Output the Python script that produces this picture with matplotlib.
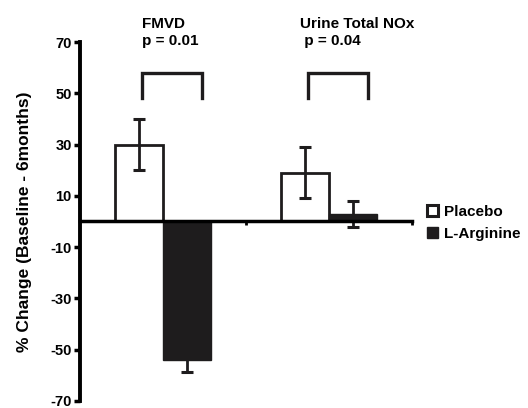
import matplotlib
matplotlib.use("Agg")
import matplotlib.pyplot as plt
import matplotlib.patches as mpatches
import numpy as np

plt.rcParams['font.family'] = ['Liberation Sans', 'DejaVu Sans']
plt.rcParams['font.weight'] = 'bold'

categories = ["FMVD", "Urine Total NOx"]
p_labels = ["p = 0.01", " p = 0.04"]
series_names = ["Placebo", "L-Arginine"]
placebo_vals = [30, 19]
placebo_err = [10, 10]
larg_vals = [-54, 2.8]
larg_err = [4.5, 5]
yticks = [-70, -50, -30, -10, 10, 30, 50, 70]

fig = plt.figure(figsize=(5.28, 4.08), dpi=100)
W, H = 528, 408
ax = fig.add_axes([80 / W, 1 - 401 / H, (412 - 80) / W, (401 - 42) / H])

centers = np.arange(len(categories)) + 0.5
bw = 0.284
off = 0.145
dark = '#1e1c1d'

ax.bar(centers - off, placebo_vals, bw, color='white', edgecolor='#1e1c1d', linewidth=2, zorder=2)
ax.bar(centers + off, larg_vals, bw, color=dark, edgecolor=dark, linewidth=1, zorder=2)
ax.errorbar(centers - off, placebo_vals, yerr=placebo_err, fmt='none', ecolor='#1e1c1d',
            elinewidth=2, capsize=4.5, capthick=2.2, zorder=3)
ax.errorbar(centers + off, larg_vals, yerr=larg_err, fmt='none', ecolor='#1e1c1d',
            elinewidth=2, capsize=4.5, capthick=2.2, zorder=3)

# significance brackets
br_lo, br_hi = 48, 58
for c in centers:
    x0 = c - 0.127
    x1 = c + 0.235
    ax.plot([x0, x0, x1, x1], [br_lo, br_hi, br_hi, br_lo], color='#1e1c1d', lw=2.4,
            solid_joinstyle='miter', clip_on=False, zorder=3)

# titles
title_x = [centers[0] - 0.127, centers[1] - 0.175]
for tx, name, pl in zip(title_x, categories, p_labels):
    ax.text(tx, 75.5, name, fontsize=11, fontweight='bold', ha='left', va='baseline', clip_on=False)
    ax.text(tx, 69.0, pl, fontsize=11, fontweight='bold', ha='left', va='baseline', clip_on=False)

ax.set_xlim(0, 2)
ax.set_ylim(-70, 70)
ax.set_yticks(yticks)
ax.set_yticklabels([str(t) for t in yticks], fontsize=10.5, fontweight='bold')
ax.tick_params(axis='y', direction='out', length=4, width=2.5, pad=2)
ax.set_xticks([1, 2])
ax.set_xticklabels([])
ax.tick_params(axis='x', direction='out', length=3, width=2)

for s in ['top', 'right']:
    ax.spines[s].set_visible(False)
ax.spines['left'].set_linewidth(2.8)
ax.spines['bottom'].set_position(('data', 0))
ax.spines['bottom'].set_linewidth(2.5)
ax.spines['bottom'].set_zorder(4)

ax.set_ylabel("% Change (Baseline - 6months)", fontsize=12.5, fontweight='bold', labelpad=13)

handles = [mpatches.Patch(facecolor='white', edgecolor='#1e1c1d', linewidth=2.2),
           mpatches.Patch(facecolor=dark, edgecolor=dark)]
leg = fig.legend(handles, series_names, loc='upper left', bbox_to_anchor=(427 / W, 1 - 205 / H),
                 frameon=False, prop={'size': 11, 'weight': 'bold'},
                 handlelength=0.72, handleheight=0.72, handletextpad=0.4,
                 labelspacing=0.5, borderaxespad=0, borderpad=0)

fig.savefig("out.png", dpi=100)
